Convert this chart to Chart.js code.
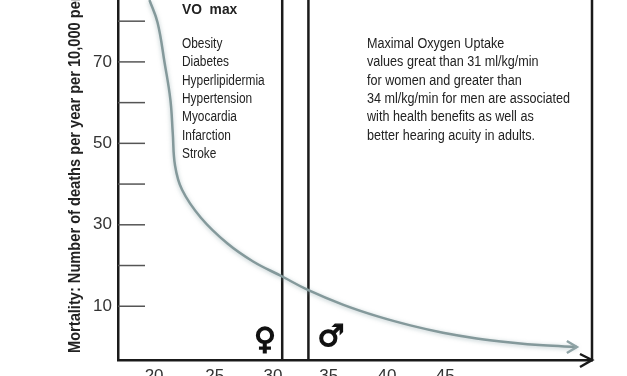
<!DOCTYPE html>
<html>
<head>
<meta charset="utf-8">
<style>
  html, body { margin: 0; padding: 0; background: #fff; overflow: hidden; }
  canvas { display: block; }
</style>
<script src="https://cdn.jsdelivr.net/npm/chart.js@4"></script>
</head>
<body>
<canvas id="chart" width="627" height="376"></canvas>
<script>
const curveX = [19.6, 20.3, 20.9, 21.4, 21.6, 21.8, 22.4, 24.0, 26.3, 28.5, 31.0, 33.2, 36.2, 39.2, 42.0, 44.8, 47.7, 50.6, 53.4, 56.3];
const curveY = [85.2, 79.6, 69.8, 60.7, 52.6, 44.5, 38.6, 31.8, 25.4, 21.0, 17.3, 14.0, 10.4, 7.5, 5.3, 3.5, 2.1, 1.1, 0.4, 0.0];
const femaleCutoff = [31.0];
const maleCutoff = [33.25];
const xTickValues = [20, 25.2, 30.2, 35, 40, 45];
const xTickLabels = ['20', '25', '30', '35', '40', '45'];
const yTickValues = [10, 20, 30, 40, 50, 60, 70, 80];
const yTickLabels = ['10', '', '30', '', '50', '', '70', ''];
const yTitle = 'Mortality: Number of deaths per year per 10,000 persons';
const listHeading = 'VO  max';
const riskList = ['Obesity', 'Diabetes', 'Hyperlipidermia', 'Hypertension', 'Myocardia', 'Infarction', 'Stroke'];
const noteLines = [
  'Maximal Oxygen Uptake',
  'values great than 31 ml/kg/min',
  'for women and greater than',
  '34 ml/kg/min for men are associated',
  'with health benefits as well as',
  'better hearing acuity in adults.'
];

const xMin = 16.9, xMax = 57.6, yMin = -3.2, yMax = 85.2;

// the original type is condensed, so squeeze the text sideways
function squeezed(ctx, text, x, y, squeeze) {
  ctx.save();
  ctx.translate(x, y);
  ctx.scale(squeeze, 1);
  ctx.fillText(text, 0, 0);
  ctx.restore();
}

const extras = {
  id: 'extras',
  beforeDatasetDraw(chart, args) {
    if (args.index === 0) {
      chart.ctx.save();
      chart.ctx.shadowColor = 'rgba(120,150,155,0.55)';
      chart.ctx.shadowBlur = 4;
      chart.ctx.shadowOffsetY = 1;
    }
  },
  afterDatasetDraw(chart, args) {
    if (args.index === 0) chart.ctx.restore();
  },
  afterDatasetsDraw(chart) {
    const { ctx, scales } = chart;
    const { x, y } = scales;
    ctx.save();

    ctx.strokeStyle = '#555';
    ctx.lineWidth = 1.5;
    yTickValues.forEach(v => {
      const py = y.getPixelForValue(v);
      ctx.beginPath();
      ctx.moveTo(x.left, py);
      ctx.lineTo(x.left + 27, py);
      ctx.stroke();
    });

    // curve arrow head
    const n = curveX.length - 1;
    const tipX = x.getPixelForValue(curveX[n]);
    const tipY = y.getPixelForValue(curveY[n]);
    ctx.strokeStyle = '#8fa3a5';
    ctx.lineWidth = 2.5;
    ctx.beginPath();
    ctx.moveTo(tipX - 10, tipY - 6);
    ctx.lineTo(tipX, tipY);
    ctx.lineTo(tipX - 10, tipY + 6);
    ctx.stroke();

    // x axis arrow head
    ctx.strokeStyle = '#1a1a1a';
    ctx.lineWidth = 2.5;
    ctx.beginPath();
    ctx.moveTo(x.right - 12, y.bottom - 6);
    ctx.lineTo(x.right, y.bottom);
    ctx.lineTo(x.right - 12, y.bottom + 7);
    ctx.stroke();

    ctx.fillStyle = '#222';
    ctx.textBaseline = 'middle';
    ctx.font = 'bold 15px "Liberation Sans"';
    squeezed(ctx, listHeading, 182, 9.5, 0.92);

    ctx.font = '14px "Liberation Sans"';
    riskList.forEach((t, i) => squeezed(ctx, t, 182, 44 + i * 18.4, 0.85));
    noteLines.forEach((t, i) => squeezed(ctx, t, 367, 44 + i * 18.4, 0.9));

    ctx.fillStyle = '#111';
    ctx.strokeStyle = '#111';
    ctx.lineWidth = 1.4;
    ctx.textAlign = 'center';
    ctx.font = 'bold 30px "DejaVu Sans"';
    ctx.fillText('\u2640', 265, 341);
    ctx.strokeText('\u2640', 265, 341);
    ctx.fillText('\u2642', 331, 338);
    ctx.strokeText('\u2642', 331, 338);

    ctx.save();
    ctx.translate(75, 353);
    ctx.rotate(-Math.PI / 2);
    ctx.textAlign = 'left';
    ctx.font = 'bold 17px "Liberation Sans"';
    ctx.fillStyle = '#222';
    squeezed(ctx, yTitle, 0, 0, 0.86);
    ctx.restore();

    ctx.restore();
  }
};

new Chart(document.getElementById('chart').getContext('2d'), {
  type: 'scatter',
  data: {
    datasets: [
      {
        data: curveX.map((v, i) => ({ x: v, y: curveY[i] })),
        showLine: true,
        borderColor: '#84999b',
        borderWidth: 2.5,
        tension: 0.4,
        pointRadius: 0,
        clip: false
      },
      {
        data: [{ x: femaleCutoff[0], y: yMin }, { x: femaleCutoff[0], y: yMax }],
        showLine: true, borderColor: '#1a1a1a', borderWidth: 2.5, pointRadius: 0, clip: false
      },
      {
        data: [{ x: maleCutoff[0], y: yMin }, { x: maleCutoff[0], y: yMax }],
        showLine: true, borderColor: '#1a1a1a', borderWidth: 2.5, pointRadius: 0, clip: false
      },
      {
        data: [{ x: xMax, y: yMin }, { x: xMax, y: yMax }],
        showLine: true, borderColor: '#1a1a1a', borderWidth: 2.5, pointRadius: 0, clip: false
      }
    ]
  },
  options: {
    responsive: false,
    animation: false,
    layout: { padding: { left: 0, right: 35, top: 0, bottom: 0 } },
    plugins: { legend: { display: false }, tooltip: { enabled: false } },
    scales: {
      x: {
        type: 'linear',
        min: xMin,
        max: xMax,
        afterBuildTicks: axis => { axis.ticks = xTickValues.map(v => ({ value: v })); },
        afterFit: axis => { axis.height = 16; axis.paddingLeft = 0; axis.paddingRight = 0; },
        grid: { drawOnChartArea: false, drawTicks: false },
        border: { color: '#1a1a1a', width: 2.5 },
        ticks: {
          autoSkip: false,
          maxRotation: 0,
          padding: 6,
          color: '#333',
          font: { family: '"Liberation Sans"', size: 17 },
          callback: (v, i) => xTickLabels[i]
        }
      },
      y: {
        type: 'linear',
        min: yMin,
        max: yMax,
        afterBuildTicks: axis => { axis.ticks = yTickValues.map(v => ({ value: v })); },
        afterFit: axis => { axis.width = 118; axis.paddingTop = 0; axis.paddingBottom = 0; },
        grid: { drawOnChartArea: false, drawTicks: false },
        border: { color: '#1a1a1a', width: 2.5 },
        ticks: {
          autoSkip: false,
          padding: 6,
          color: '#333',
          font: { family: '"Liberation Sans"', size: 17 },
          callback: (v, i) => yTickLabels[i]
        }
      }
    }
  },
  plugins: [extras]
});
</script>
</body>
</html>
